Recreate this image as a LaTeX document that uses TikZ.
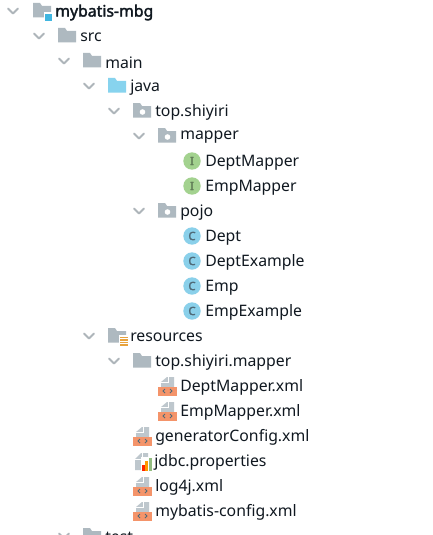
\documentclass[tikz,border=0pt]{standalone}
\usepackage{fontspec}
\setmainfont{Noto Sans}
\newfontfamily\boldface[FakeBold=2.2]{Noto Sans}
\definecolor{fold}{HTML}{AEB9C0}
\definecolor{chev}{HTML}{AEB5BA}
\definecolor{srcblue}{HTML}{87D3EE}
\definecolor{modblue}{HTML}{40B6E0}
\definecolor{igreen}{HTML}{A3D28F}
\definecolor{iletter}{HTML}{5E7A55}
\definecolor{cblue}{HTML}{8AD0EA}
\definecolor{cletter}{HTML}{4F6A78}
\definecolor{xmlor}{HTML}{F4946A}
\definecolor{txt}{HTML}{101820}
\definecolor{stripe}{HTML}{E8A33D}
\tikzset{
  x=0.75pt,y=-0.75pt,
  label text/.style={anchor=west,inner sep=0pt,yshift=-1.1pt,text=txt,font=\fontsize{11.85}{14}\selectfont},
  chevron/.style={draw=chev,line width=1.5pt,line cap=round,line join=round},
}
\newcommand{\chv}[2]{\draw[chevron] (#1-5,#2-2.5) -- (#1,#2+2.5) -- (#1+5,#2-2.5);}
\newcommand{\fld}[3]{\fill[#3] (#1,#2-8) -- (#1+7,#2-8) -- (#1+9,#2-5) -- (#1+18,#2-5) -- (#1+18,#2+6.5) -- (#1,#2+6.5) -- cycle;}
\newcommand{\pkg}[2]{\fld{#1}{#2}{fold}\fill[white] (#1+9.5,#2+1) circle (2.8);}
\newcommand{\iconI}[2]{\fill[igreen] (#1,#2) circle (8.7);
  \node[inner sep=0pt,text=iletter,font=\fontsize{8.5}{8}\boldface] at (#1,#2) {I};}
\newcommand{\iconC}[2]{\fill[cblue] (#1,#2) circle (8.7);
  \node[inner sep=0pt,text=cletter,font=\fontsize{8.5}{8}\boldface] at (#1,#2) {C};}
\newcommand{\xmlicon}[2]{%
  \fill[fold!80] (#1+3,#2-4) -- (#1+9,#2-9) -- (#1+16,#2-9) -- (#1+16,#2+1) -- (#1+3,#2+1) -- cycle;
  \draw[white,line width=.7pt] (#1+3,#2-3.5) -- (#1+10,#2-3.5) -- (#1+10,#2-9);
  \fill[xmlor] (#1-.5,#2+1) rectangle (#1+19,#2+9.5);
  \draw[cletter,line width=.7pt] (#1+7,#2+3) -- (#1+5,#2+5) -- (#1+7,#2+7) (#1+12,#2+3) -- (#1+14,#2+5) -- (#1+12,#2+7);}
\begin{document}
\begin{tikzpicture}
\useasboundingbox (0,0) rectangle (432,535);
\clip (0,0) rectangle (432,535);
\fill[white] (0,0) rectangle (432,535);
% root
\chv{13}{11}
\fld{33}{11}{fold}
\fill[white] (43.5,12.5) rectangle (52,22);
\fill[modblue] (45,14) rectangle (52,21);
\node[label text,font=\fontsize{11.85}{14}\boldface] (root) at (55,11) {mybatis-mbg};
\chv{39}{36}\fld{58}{36}{fold}
\node[label text] (src) at (80,36) {src};
\chv{64}{61}\fld{83}{61}{fold}
\node[label text] (main) at (105,61) {main};
\chv{89}{86}\fld{108}{86}{srcblue}
\node[label text] (java) at (130,86) {java};
\chv{114}{111}\pkg{133}{111}
\node[label text] (top) at (155,111) {top.shiyiri};
\chv{139}{136}\pkg{158}{136}
\node[label text] (mapper) at (180,136) {mapper};
\iconI{192}{161}
\node[label text] (dm) at (205,161) {DeptMapper};
\iconI{192}{186}
\node[label text] (em) at (205,186) {EmpMapper};
\chv{139}{211}\pkg{158}{211}
\node[label text] (pojo) at (180,211) {pojo};
\iconC{192}{236}
\node[label text] (dept) at (205,236) {Dept};
\iconC{192}{261}
\node[label text] (deptex) at (205,261) {DeptExample};
\iconC{192}{286}
\node[label text] (emp) at (205,286) {Emp};
\iconC{192}{311}
\node[label text] (empex) at (205,311) {EmpExample};
% resources
\chv{89}{336}\fld{108}{336}{fold}
\fill[white] (118.5,335) rectangle (128,347);
\foreach \yy in {336.5,339,341.5,344}{\fill[stripe] (119.5,\yy) rectangle (127.5,\yy+1.6);}
\node[label text] (res) at (130,336) {resources};
\chv{114}{361}\fld{133}{361}{fold}
\node[label text] (tsm) at (155,361) {top.shiyiri.mapper};
\xmlicon{158}{386}
\node[label text] (dmx) at (180,386) {DeptMapper.xml};
\xmlicon{158}{411}
\node[label text] (emx) at (180,411) {EmpMapper.xml};
\xmlicon{133}{436}
\node[label text] (gen) at (155,436) {generatorConfig.xml};
% jdbc.properties
\fill[fold!80] (135,459) -- (141,453) -- (148,453) -- (148,470) -- (135,470) -- cycle;
\draw[white,line width=.7pt] (135,459.5) -- (142,459.5) -- (142,453);
\fill[white] (140.5,457) rectangle (153,472);
\fill[red!70!orange] (141.5,465) rectangle (144.5,471);
\fill[orange!80!yellow] (145.2,461) rectangle (148,471);
\fill[igreen!90!black] (148.8,458) rectangle (151.5,471);
\node[label text] (jdbc) at (154,461) {jdbc.properties};
\xmlicon{133}{486}
\node[label text] (log) at (155,486) {log4j.xml};
\xmlicon{133}{511}
\node[label text] (mbc) at (155,511) {mybatis-config.xml};
\chv{64}{536}\fld{83}{536}{fold}
\node[label text] (test) at (105,536) {test};
\end{tikzpicture}
\end{document}
